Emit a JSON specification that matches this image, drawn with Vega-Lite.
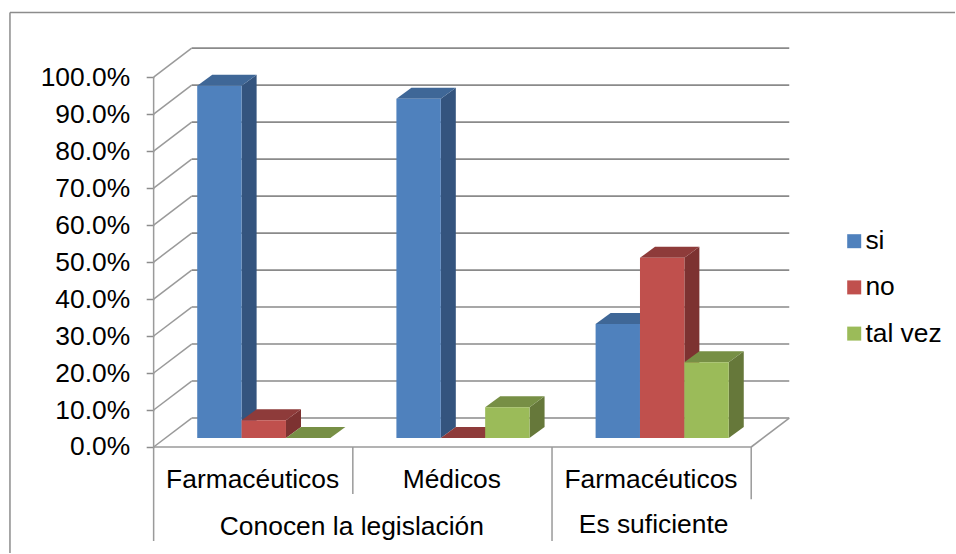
{
  "$schema": "https://vega.github.io/schema/vega-lite/v6.json",
  "width": 956,
  "height": 554,
  "padding": 0,
  "autosize": {"type": "fit", "contains": "padding"},
  "background": "#ffffff",
  "config": {"view": {"stroke": null}},
  "datasets": {
    "encuesta": [
      {"panel": "Conocen la legislación", "group": "Farmacéuticos", "series": "si", "value": 95.2},
      {"panel": "Conocen la legislación", "group": "Farmacéuticos", "series": "no", "value": 4.8},
      {"panel": "Conocen la legislación", "group": "Farmacéuticos", "series": "tal vez", "value": 0},
      {"panel": "Conocen la legislación", "group": "Médicos", "series": "si", "value": 91.7},
      {"panel": "Conocen la legislación", "group": "Médicos", "series": "no", "value": 0},
      {"panel": "Conocen la legislación", "group": "Médicos", "series": "tal vez", "value": 8.3},
      {"panel": "Es suficiente", "group": "Farmacéuticos", "series": "si", "value": 30.8},
      {"panel": "Es suficiente", "group": "Farmacéuticos", "series": "no", "value": 48.7},
      {"panel": "Es suficiente", "group": "Farmacéuticos", "series": "tal vez", "value": 20.5}
    ],
    "marcas": [{"pct": 0}, {"pct": 10}, {"pct": 20}, {"pct": 30}, {"pct": 40}, {"pct": 50}, {"pct": 60}, {"pct": 70}, {"pct": 80}, {"pct": 90}, {"pct": 100}],
    "divisiones": [{"boundary": 0}, {"boundary": 1}, {"boundary": 2}, {"boundary": 3}]
  },
  "encoding": {
    "x": {"field": "x", "type": "quantitative", "stack": null, "axis": null, "scale": {"domain": [-0.7713, 4.0231], "nice": false, "zero": false}},
    "y": {
      "field": "y",
      "type": "quantitative",
      "stack": null,
      "scale": {"domain": [-28.655, 120.835], "nice": false, "zero": false},
      "axis": {
        "orient": "left",
        "offset": -153.8,
        "title": null,
        "values": [0, 10, 20, 30, 40, 50, 60, 70, 80, 90, 100],
        "domain": false,
        "grid": false,
        "tickSize": 7.6,
        "tickColor": "#8c8c8c",
        "tickWidth": 1.5,
        "labelFont": "Liberation Sans",
        "labelFontSize": 26.4,
        "labelColor": "#000000",
        "labelPadding": 16.5,
        "labelOverlap": false,
        "labelExpr": "format(datum.value, '.1f') + '%'"
      }
    }
  },
  "layer": [
    {
      "description": "Outer chart frame, top and left edges",
      "data": {"values": [{"edge": "top"}, {"edge": "left"}]},
      "transform": [
        {"calculate": "-0.7213", "as": "x"},
        {"calculate": "datum.edge === 'top' ? 4.0231 : -0.7213", "as": "x2"},
        {"calculate": "117.46", "as": "y"},
        {"calculate": "datum.edge === 'top' ? 117.46 : -28.655", "as": "y2"}
      ],
      "mark": {"type": "rule", "color": "#8c8c8c", "strokeWidth": 1.5},
      "encoding": {"x2": {"field": "x2"}, "y2": {"field": "y2"}}
    },
    {
      "description": "Back wall gridlines",
      "data": {"name": "marcas"},
      "transform": [
        {"calculate": "0.191", "as": "x"},
        {"calculate": "3.191", "as": "x2"},
        {"calculate": "datum.pct + 7.825", "as": "y"}
      ],
      "mark": {"type": "rule", "color": "#8a8a8a", "strokeWidth": 1.6},
      "encoding": {"x2": {"field": "x2"}}
    },
    {
      "description": "Side wall diagonals",
      "data": {"name": "marcas"},
      "transform": [
        {"calculate": "0", "as": "x"},
        {"calculate": "0.191", "as": "x2"},
        {"calculate": "datum.pct", "as": "y"},
        {"calculate": "datum.pct + 7.825", "as": "y2"}
      ],
      "mark": {"type": "rule", "color": "#9a9a9a", "strokeWidth": 1.5},
      "encoding": {"x2": {"field": "x2"}, "y2": {"field": "y2"}}
    },
    {
      "description": "Floor: front edge and right diagonal",
      "data": {"values": [{"edge": "front"}, {"edge": "right"}]},
      "transform": [
        {"calculate": "datum.edge === 'front' ? 0 : 3", "as": "x"},
        {"calculate": "datum.edge === 'front' ? 3 : 3.191", "as": "x2"},
        {"calculate": "0", "as": "y"},
        {"calculate": "datum.edge === 'front' ? 0 : 7.825", "as": "y2"}
      ],
      "mark": {"type": "rule", "color": "#9a9a9a", "strokeWidth": 1.6},
      "encoding": {"x2": {"field": "x2"}, "y2": {"field": "y2"}}
    },
    {
      "description": "Vertical axis line and category dividers below the floor",
      "data": {"name": "divisiones"},
      "transform": [
        {"calculate": "datum.boundary", "as": "x"},
        {"calculate": "datum.boundary === 0 ? 100 : 0", "as": "y"},
        {"calculate": "[-25.44, -12.7, -25.44, -14.1][datum.boundary]", "as": "y2"}
      ],
      "mark": {"type": "rule", "color": "#9a9a9a", "strokeWidth": 1.5},
      "encoding": {"y2": {"field": "y2"}}
    },
    {
      "description": "Three-dimensional columns: side faces, then tops, then fronts",
      "data": {"name": "encuesta"},
      "transform": [
        {"calculate": "indexof(['Conocen la legislación|Farmacéuticos', 'Conocen la legislación|Médicos', 'Es suficiente|Farmacéuticos'], datum.panel + '|' + datum.group)", "as": "slot"},
        {"calculate": "indexof(['si', 'no', 'tal vez'], datum.series)", "as": "pos"},
        {"calculate": "datum.slot + '-' + datum.series", "as": "bar"},
        {"calculate": "datum.slot - 0.004 + 0.2228 * (datum.pos + 1)", "as": "left"},
        {"calculate": "datum.left + 0.2228", "as": "right"},
        {"calculate": "2.43 + datum.value", "as": "top"}
      ],
      "encoding": {
        "color": {
          "field": "tone",
          "type": "nominal",
          "scale": {
            "domain": ["si", "no", "tal vez", "si lado", "no lado", "tal vez lado", "si tapa", "no tapa", "tal vez tapa"],
            "range": ["#4f81bd", "#c0504d", "#9bbb59", "#34547e", "#7d3231", "#66783a", "#3f6797", "#8e3b3a", "#778f45"]
          },
          "legend": {
            "values": ["si", "no", "tal vez"],
            "title": null,
            "orient": "none",
            "legendX": 841,
            "legendY": 228,
            "symbolType": "square",
            "symbolSize": 196,
            "symbolStrokeWidth": 0,
            "labelFont": "Liberation Sans",
            "labelFontSize": 26.4,
            "labelColor": "#000000",
            "labelOffset": -2,
            "rowPadding": 19.2,
            "padding": 0
          }
        }
      },
      "layer": [
        {
          "transform": [
            {"calculate": "[0, 1]", "as": "t"},
            {"flatten": ["t"]},
            {"calculate": "datum.series + ' lado'", "as": "tone"},
            {"calculate": "datum.right + datum.t * 0.0754", "as": "x"},
            {"calculate": "2.43 + datum.t * 2.97", "as": "y"},
            {"calculate": "datum.top + datum.t * 2.97", "as": "y2"}
          ],
          "mark": {"type": "area", "orient": "vertical"},
          "encoding": {"y2": {"field": "y2"}, "detail": {"field": "bar"}}
        },
        {
          "transform": [
            {"calculate": "[0, 1, 2, 3]", "as": "corner"},
            {"flatten": ["corner"]},
            {"calculate": "datum.series + ' tapa'", "as": "tone"},
            {"calculate": "datum.left + [0, 0.0754, 0.2228, 0.2982][datum.corner]", "as": "x"},
            {"calculate": "datum.top + [0, 0, 0, 2.97][datum.corner]", "as": "y"},
            {"calculate": "datum.top + [0, 2.97, 2.97, 2.97][datum.corner]", "as": "y2"}
          ],
          "mark": {"type": "area", "orient": "vertical"},
          "encoding": {"y2": {"field": "y2"}, "detail": {"field": "bar"}}
        },
        {
          "transform": [
            {"calculate": "datum.series", "as": "tone"},
            {"calculate": "datum.left", "as": "x"},
            {"calculate": "datum.right", "as": "x2"},
            {"calculate": "2.43", "as": "y"},
            {"calculate": "datum.top", "as": "y2"}
          ],
          "mark": {"type": "rect"},
          "encoding": {"x2": {"field": "x2"}, "y2": {"field": "y2"}}
        }
      ]
    },
    {
      "description": "Category names under each column group",
      "data": {"name": "encuesta"},
      "transform": [
        {"aggregate": [{"op": "count", "as": "n"}], "groupby": ["panel", "group"]},
        {"calculate": "indexof(['Conocen la legislación|Farmacéuticos', 'Conocen la legislación|Médicos', 'Es suficiente|Farmacéuticos'], datum.panel + '|' + datum.group)", "as": "slot"},
        {"calculate": "datum.slot + 0.497", "as": "x"},
        {"calculate": "-11", "as": "y"}
      ],
      "mark": {"type": "text", "font": "Liberation Sans", "fontSize": 26.4, "color": "#000000", "baseline": "alphabetic", "align": "center"},
      "encoding": {"text": {"field": "group"}}
    },
    {
      "description": "Outer grouping names",
      "data": {"name": "encuesta"},
      "transform": [
        {"aggregate": [{"op": "count", "as": "n"}], "groupby": ["panel"]},
        {"calculate": "datum.panel === 'Es suficiente' ? 2.51 : 0.995", "as": "x"},
        {"calculate": "datum.panel === 'Es suficiente' ? -23.3 : -23.9", "as": "y"}
      ],
      "mark": {"type": "text", "font": "Liberation Sans", "fontSize": 26.4, "color": "#000000", "baseline": "alphabetic", "align": "center"},
      "encoding": {"text": {"field": "panel"}}
    }
  ]
}
